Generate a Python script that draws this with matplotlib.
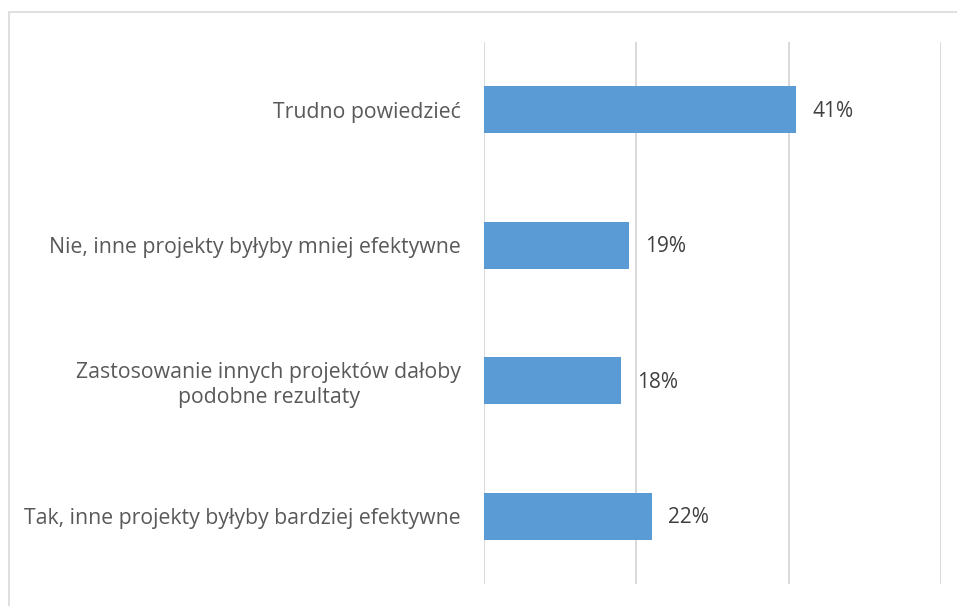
import matplotlib.pyplot as plt
from matplotlib.patches import Rectangle

# data (bottom to top, as drawn)
categories = [
    "Tak, inne projekty byłyby bardziej efektywne",
    "Zastosowanie innych projektów dałoby\npodobne rezultaty",
    "Nie, inne projekty byłyby mniej efektywne",
    "Trudno powiedzieć",
]
values = [22, 18, 19, 41]
xticks = [0, 20, 40, 60]

plt.rcParams['font.family'] = ['Open Sans', 'DejaVu Sans']

W, H = 957, 606
fig = plt.figure(figsize=(W / 100, H / 100), dpi=100)
ax = fig.add_axes([484 / W, 1 - 584 / H, (941 - 484) / W, (584 - 42) / H])

# chart frame (cut off at right and bottom)
fig.patches.append(Rectangle((8.5 / W, -0.05), 1.1, 1 - 12.5 / H + 0.05,
                             transform=fig.transFigure, fill=False,
                             edgecolor='#D9D9D9', linewidth=1.2))

ypos = list(range(len(categories)))
ax.barh(ypos, values, height=0.35, color='#5B9BD5', zorder=3)

for y, v in zip(ypos, values):
    ax.text(v + 2.1, y - 0.01, f"{v}%", va='center', ha='left',
            fontsize=15, color='#404040')

ax.set_xlim(0, 60)
ax.set_ylim(-0.5, len(categories) - 0.5)
ax.set_xticks(xticks)
ax.set_xticklabels([])
ax.grid(axis='x', color='#D9D9D9', linewidth=1.4, zorder=0)
ax.tick_params(axis='both', length=0)
ax.set_yticks(ypos)
ax.set_yticklabels(categories, fontsize=15.3, color='#595959',
                   multialignment='center', linespacing=1.25)
ax.tick_params(axis='y', pad=16.5)
for s in ax.spines.values():
    s.set_visible(False)

fig.savefig('out.png', dpi=100)
